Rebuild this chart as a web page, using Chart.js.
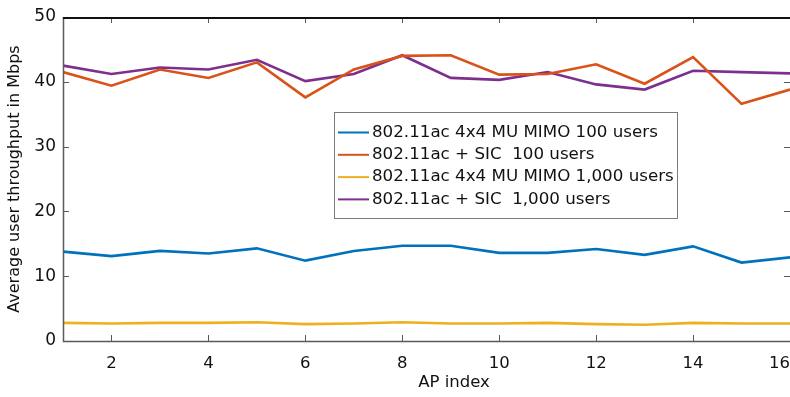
<!DOCTYPE html>
<html>
<head>
<meta charset="utf-8">
<script src="https://cdn.jsdelivr.net/npm/chart.js@4"></script>
<style>
  html, body { margin: 0; padding: 0; background: #fff; overflow: hidden; }
  #wrap { width: 790px; height: 397px; }
</style>
</head>
<body>
<div id="wrap"><canvas id="chart" width="790" height="397"></canvas></div>
<script>
// AP index on x axis
let apIndex = [1, 2, 3, 4, 5, 6, 7, 8, 9, 10, 11, 12, 13, 14, 15, 16];
let xTicks = [1, 2, 4, 6, 8, 10, 12, 14, 16];   // 1 only keeps the last label inside
let yTicks = [0, 10, 20, 30, 40, 50];

let seriesNames = [
    "802.11ac 4x4 MU MIMO 100 users",
    "802.11ac + SIC  100 users",
    "802.11ac 4x4 MU MIMO 1,000 users",
    "802.11ac + SIC  1,000 users"
];
let seriesColors = ['#0072BD', '#D95319', '#EDB120', '#7E2F8E'];

let mimo100 = [13.8, 13.1, 13.9, 13.5, 14.3, 12.4, 13.9, 14.7, 14.7, 13.6, 13.6, 14.2, 13.3, 14.6, 12.1, 12.9];
let sic100 = [41.5, 39.4, 41.9, 40.6, 43.0, 37.6, 41.9, 44.0, 44.1, 41.1, 41.2, 42.7, 39.7, 43.8, 36.6, 38.8];
let mimo1000 = [2.8, 2.7, 2.8, 2.8, 2.9, 2.6, 2.7, 2.9, 2.7, 2.7, 2.8, 2.6, 2.5, 2.8, 2.7, 2.7];
let sic1000 = [42.5, 41.2, 42.2, 41.9, 43.4, 40.1, 41.2, 44.1, 40.6, 40.3, 41.5, 39.6, 38.8, 41.7, 41.5, 41.3];

let allSeries = [mimo100, sic100, mimo1000, sic1000];

let xTitle = 'AP index';
let yTitle = 'Average user throughput in Mbps';

let fontFamily = "'DejaVu Sans', sans-serif";
let axisColor = '#5a5a5a';

function toPoints(values) {
    return values.map((v, i) => ({ x: apIndex[i], y: v }));
}

// box, inward ticks, x label and the legend, matlab style
let boxPlugin = {
    id: 'boxPlugin',
    afterDatasetsDraw(chart) {
        let ctx = chart.ctx;
        let area = chart.chartArea;
        let xs = chart.scales.x;
        let ys = chart.scales.y;
        ctx.save();

        ctx.strokeStyle = axisColor;
        ctx.lineWidth = 1.5;
        ctx.beginPath();
        ctx.moveTo(area.left + 0.5, area.top);
        ctx.lineTo(area.left + 0.5, area.bottom + 0.5);
        ctx.lineTo(area.right, area.bottom + 0.5);
        ctx.stroke();

        let len = 6;
        ctx.lineWidth = 1;
        ctx.beginPath();
        xTicks.forEach((v) => {
            let px = Math.round(xs.getPixelForValue(v)) + 0.5;
            ctx.moveTo(px, area.bottom);
            ctx.lineTo(px, area.bottom - len);
            ctx.moveTo(px, area.top);
            ctx.lineTo(px, area.top + len);
        });
        yTicks.forEach((v) => {
            let py = Math.round(ys.getPixelForValue(v)) + 0.5;
            ctx.moveTo(area.left, py);
            ctx.lineTo(area.left + len, py);
            ctx.moveTo(area.right, py);
            ctx.lineTo(area.right - len, py);
        });
        ctx.stroke();

        ctx.strokeStyle = '#111';
        ctx.lineWidth = 2;
        ctx.beginPath();
        ctx.moveTo(area.left, area.top + 1);
        ctx.lineTo(area.right, area.top + 1);
        ctx.stroke();

        // x label sits right of the axis centre in the original
        ctx.fillStyle = '#111';
        ctx.font = "16.5px " + fontFamily;
        ctx.textAlign = 'center';
        ctx.textBaseline = 'middle';
        ctx.fillText(xTitle, 454, 383);

        // legend box
        let lx = 334, ly = 112, lw = 343, lh = 106;
        ctx.fillStyle = '#fff';
        ctx.fillRect(lx, ly, lw, lh);
        ctx.strokeStyle = '#7a7a7a';
        ctx.lineWidth = 1;
        ctx.strokeRect(lx + 0.5, ly + 0.5, lw, lh);
        ctx.font = "16.7px " + fontFamily;
        ctx.textAlign = 'left';
        chart.data.datasets.forEach((ds, i) => {
            let y = ly + 20.5 + i * 22.3;
            ctx.strokeStyle = ds.borderColor;
            ctx.lineWidth = 2;
            ctx.beginPath();
            ctx.moveTo(lx + 4, y);
            ctx.lineTo(lx + 35, y);
            ctx.stroke();
            ctx.fillStyle = '#111';
            ctx.fillText(ds.label, lx + 38, y);
        });
        ctx.restore();
    }
};

let ctx = document.getElementById("chart").getContext("2d");
let chart = new Chart(ctx, {
    type: 'line',
    data: {
        datasets: allSeries.map((values, i) => ({
            label: seriesNames[i],
            data: toPoints(values),
            borderColor: seriesColors[i],
            backgroundColor: seriesColors[i],
            borderWidth: 2.6,
            pointRadius: 0,
            tension: 0,
            fill: false
        }))
    },
    options: {
        responsive: false,
        animation: { duration: 0 },
        layout: { padding: { top: 17, right: -2, left: 0, bottom: 0 } },
        plugins: {
            legend: { display: false },
            tooltip: { enabled: false }
        },
        scales: {
            x: {
                type: 'linear',
                min: 1,
                max: 16,
                afterBuildTicks: (axis) => { axis.ticks = xTicks.map((v) => ({ value: v })); },
                afterFit: (axis) => { axis.height = 56; axis.paddingLeft = 0; axis.paddingRight = 0; },
                grid: { display: false, drawTicks: false },
                border: { display: false },
                ticks: {
                    color: '#111',
                    padding: 13,
                    align: 'inner',
                    maxRotation: 0,
                    autoSkip: false,
                    font: { size: 16.5, family: fontFamily },
                    callback: (v) => (v === 1 ? '' : String(v))
                }
            },
            y: {
                min: 0,
                max: 50,
                afterBuildTicks: (axis) => { axis.ticks = yTicks.map((v) => ({ value: v })); },
                afterFit: (axis) => { axis.width = 63; axis.paddingTop = 0; axis.paddingBottom = 0; },
                grid: { display: false, drawTicks: false },
                border: { display: false },
                ticks: { color: '#111', padding: 7, font: { size: 17, family: fontFamily } },
                title: {
                    display: true,
                    text: yTitle,
                    color: '#111',
                    padding: { top: 5, bottom: 0 },
                    font: { size: 16, family: fontFamily }
                }
            }
        }
    },
    plugins: [boxPlugin]
});
</script>
</body>
</html>
